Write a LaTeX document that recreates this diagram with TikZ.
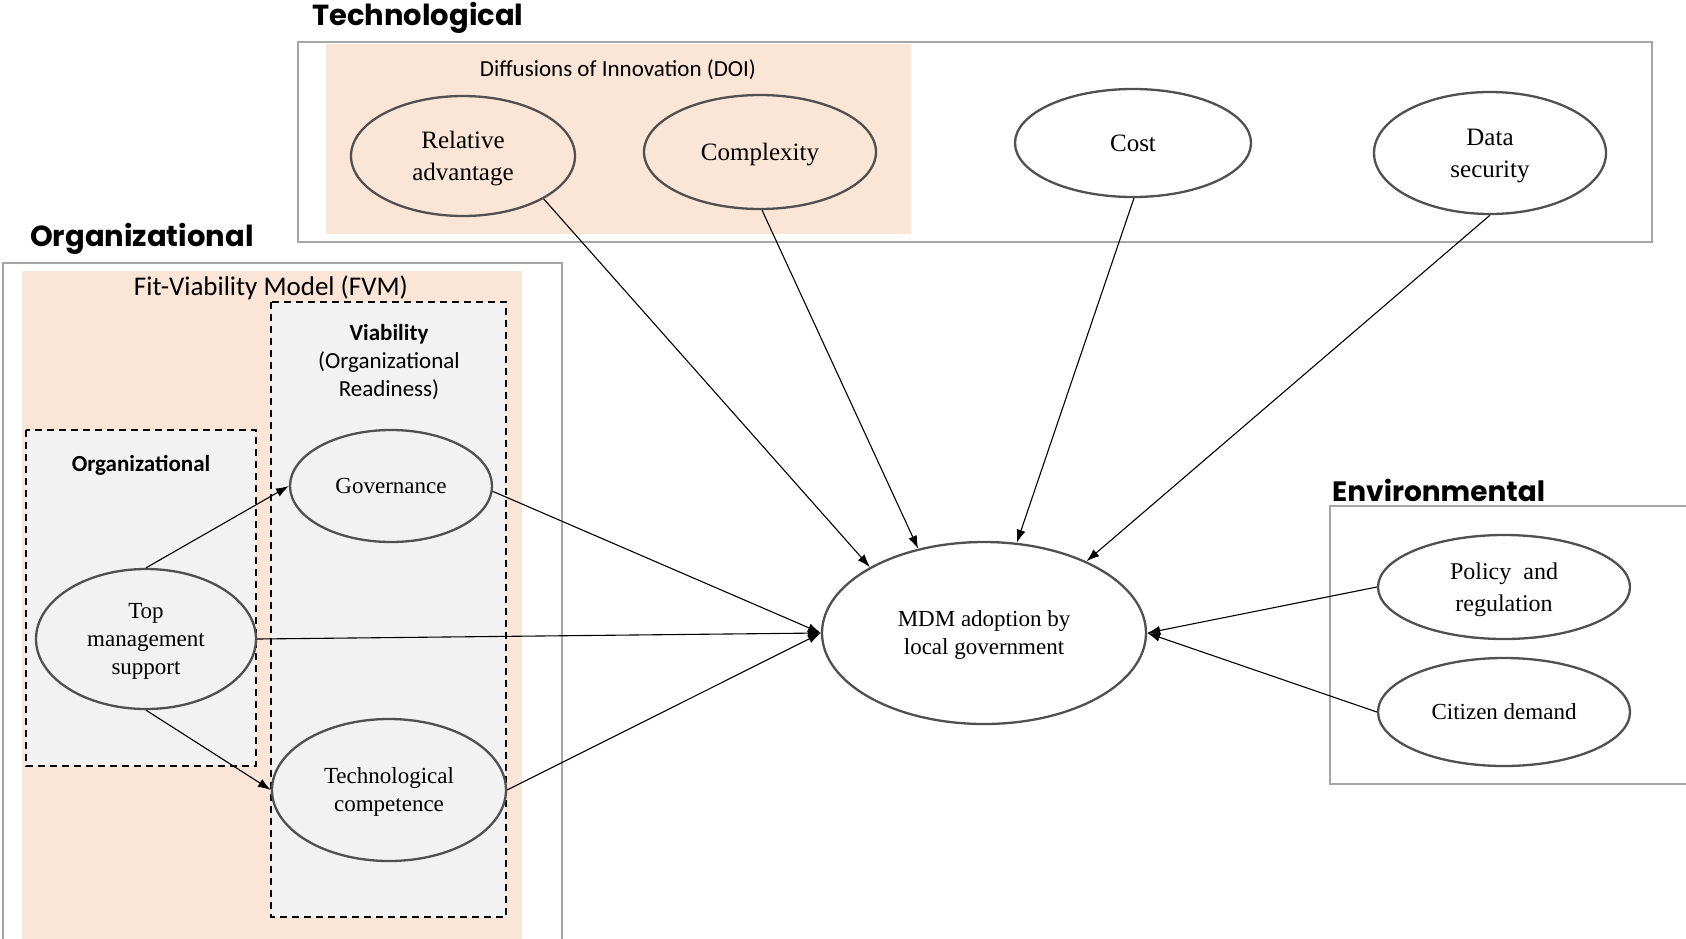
\documentclass[tikz,border=0pt]{standalone}
\usepackage{fontspec}
\setmainfont{Liberation Serif}
\newfontfamily\calfont{Carlito}
\newfontfamily\titlefont{Poppins}
\usetikzlibrary{shapes.geometric,arrows.meta}
\definecolor{peach}{HTML}{FBE5D6}
\definecolor{panelgray}{HTML}{F2F2F2}
\definecolor{ellgray}{HTML}{505050}
\definecolor{boxgray}{HTML}{A6A6A6}
\tikzset{
  ell/.style={ellipse, draw=ellgray, line width=2.3pt, inner sep=0pt, align=center,
    text depth=0pt, font=\fontsize{23}{28}\selectfont},
  conn/.style={draw=black, line width=1.1pt, -{Latex[length=13pt,width=9pt]}},
  outerbox/.style={draw=boxgray, line width=1.3pt},
  dashbox/.style={draw=black, line width=1.8pt, dash pattern=on 7pt off 5pt, fill=panelgray},
  grouptitle/.style={anchor=base west, inner sep=0pt, font=\titlefont\bfseries\fontsize{29}{34}\selectfont},
  boxlabel/.style={inner sep=0pt, align=center, font=\calfont\fontsize{23}{28}\selectfont},
}
\begin{document}
\begin{tikzpicture}[x=1pt, y=-1pt]
\useasboundingbox (0,0) rectangle (1686,938);

% ---------- Technological group ----------
\fill[peach] (326,44) rectangle (911,234);
\draw[outerbox] (298,42) rectangle (1652,242);
\node[grouptitle] (techtitle) at (312,25) {Technological};
\node[boxlabel] (doilbl) at (618,70) {Diffusions of Innovation (DOI)};

\node[ell, fill=peach, minimum width=224pt, minimum height=120pt,
  font=\fontsize{25}{32}\selectfont] (ra) at (463,156) {Relative\\advantage};
\node[ell, fill=peach, minimum width=232pt, minimum height=114pt,
  font=\fontsize{25}{32}\selectfont] (cx) at (760,152) {Complexity};
\node[ell, fill=white, minimum width=236pt, minimum height=108pt,
  font=\fontsize{25}{32}\selectfont] (cost) at (1133,143) {Cost};
\node[ell, fill=white, minimum width=232pt, minimum height=122pt,
  font=\fontsize{25}{32}\selectfont] (ds) at (1490,153) {Data\\security};

% ---------- Organizational group ----------
\fill[peach] (22,271) rectangle (522,945);
\draw[outerbox] (3,945) -- (3,263) -- (562,263) -- (562,945);
\node[grouptitle] (orgtitle) at (30,246) {Organizational};
\node[boxlabel, font=\calfont\fontsize{27}{32}\selectfont] (fvmlbl) at (271,288) {Fit-Viability Model (FVM)};

\draw[dashbox] (271,302) rectangle (506,917);
\draw[dashbox] (26,430) rectangle (256,766);
\node[boxlabel] (vialbl) at (389,362) {\textbf{Viability}\\(Organizational\\Readiness)};
\node[boxlabel] (orglbl) at (141,465) {\textbf{Organizational}};

\node[ell, fill=panelgray, minimum width=220pt, minimum height=140pt] (tms) at (146,639) {Top\\management\\support};
\node[ell, fill=panelgray, minimum width=202pt, minimum height=112pt] (gov) at (391,486) {Governance};
\node[ell, fill=panelgray, minimum width=234pt, minimum height=142pt] (tc) at (389,790) {Technological\\competence};

% ---------- Environmental group ----------
\draw[outerbox] (1700,506) -- (1330,506) -- (1330,784) -- (1700,784);
\node[grouptitle, font=\titlefont\bfseries\fontsize{28}{34}\selectfont] (envtitle) at (1332,501) {Environmental};
\node[ell, fill=white, minimum width=252pt, minimum height=104pt,
  font=\fontsize{24}{32}\selectfont] (pol) at (1504,587) {Policy\ \ and\\regulation};
\node[ell, fill=white, minimum width=252pt, minimum height=108pt,
  font=\fontsize{23}{28}\selectfont] (cit) at (1504,712) {Citizen demand};

% ---------- Outcome ----------
\node[ell, fill=white, minimum width=324pt, minimum height=182pt] (mdm) at (984,633) {MDM adoption by\\local government};

% ---------- Connectors ----------
\draw[conn] (ra.-28) -- (mdm.150);
\draw[conn] (cx.-88) -- (mdm.128);
\draw[conn] (cost.-89) -- (mdm.70);
\draw[conn] (ds.-90) -- (mdm.35);
\draw[conn] (gov.-3.5) -- (mdm.west);
\draw[conn] (tms.east) -- (mdm.west);
\draw[conn] (tc.east) -- (mdm.west);
\draw[conn] (pol.west) -- (mdm.east);
\draw[conn] (cit.west) -- (mdm.east);
\draw[conn] (tms.north) -- (gov.west);
\draw[conn] (tms.south) -- (tc.west);
\end{tikzpicture}
\end{document}
